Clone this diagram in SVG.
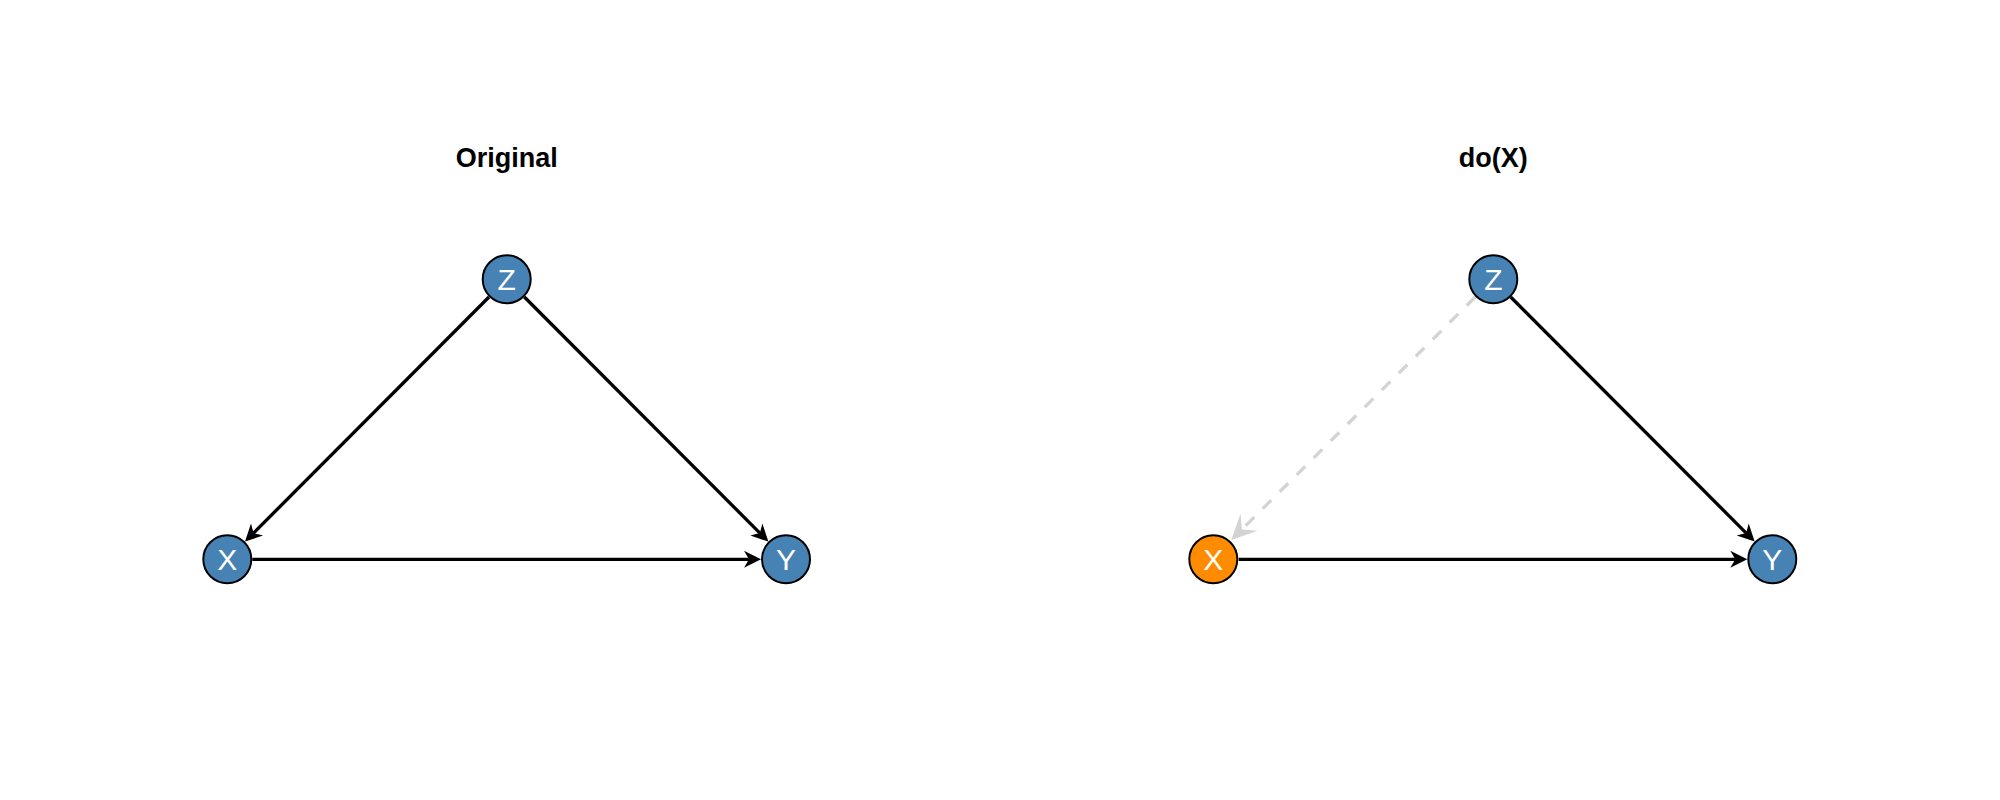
<svg xmlns="http://www.w3.org/2000/svg" width="2000" height="800" viewBox="0 0 2000 800">
  <style>
    .title { font-family: "Liberation Sans", Arial, sans-serif; font-size: 27px; font-weight: bold; fill: #000; text-anchor: middle; }
    .node circle { stroke: #000; stroke-width: 2; }
    .blue circle { fill: #4682b4; }
    .orange circle { fill: #ff8c00; }
    .node text { font-family: "Liberation Sans", Arial, sans-serif; font-size: 30px; fill: #fff; text-anchor: middle; }
    .edge { stroke: #000; stroke-width: 3.3; fill: none; marker-end: url(#arrow); }
    .removed { stroke: #d3d3d3; stroke-width: 3.3; fill: none; stroke-dasharray: 12 12; marker-end: url(#arrowGray); }
  </style>
  <defs>
    <marker id="arrow" viewBox="-8 -10 22 20" refX="0" refY="0" markerWidth="22" markerHeight="20" markerUnits="userSpaceOnUse" orient="auto">
      <path d="M12,0 L-5,-8.5 L0,0 L-5,8.5 Z" fill="#000"/>
    </marker>
    <marker id="arrowGray" viewBox="-15 -13 29 26" refX="0" refY="0" markerWidth="29" markerHeight="26" markerUnits="userSpaceOnUse" orient="auto">
      <path d="M12,0 L-13,-12 L-3,0 L-13,12 Z" fill="#d3d3d3"/>
    </marker>
  </defs>
  <rect width="2000" height="800" fill="#fff"/>

  <text class="title" x="506.7" y="167">Original</text>
  <text class="title" x="1493.3" y="167">do(X)</text>

  <g id="connectors">
    <line class="edge" x1="489" y1="297" x2="253.5" y2="533.1"/>
    <line class="edge" x1="524.35" y1="297" x2="759.9" y2="533.1"/>
    <line class="edge" x1="252.3" y1="559.3" x2="749" y2="559.3"/>
    <line class="removed" x1="1475.3" y1="297" x2="1239.8" y2="531.5"/>
    <line class="edge" x1="1510.65" y1="297" x2="1746.2" y2="533.1"/>
    <line class="edge" x1="1238.6" y1="559.3" x2="1735.3" y2="559.3"/>
  </g>

  <g id="node-Z-original" class="node blue">
    <circle cx="506.7" cy="279.3" r="24"/>
    <text x="506.7" y="290">Z</text>
  </g>
  <g id="node-X-original" class="node blue">
    <circle cx="227.3" cy="559.3" r="24"/>
    <text x="227.3" y="570">X</text>
  </g>
  <g id="node-Y-original" class="node blue">
    <circle cx="786" cy="559.3" r="24"/>
    <text x="786" y="570">Y</text>
  </g>

  <g id="node-Z-do" class="node blue">
    <circle cx="1493.3" cy="279.3" r="24"/>
    <text x="1493.3" y="290">Z</text>
  </g>
  <g id="node-X-do" class="node orange">
    <circle cx="1213.3" cy="559.3" r="24"/>
    <text x="1213.3" y="570">X</text>
  </g>
  <g id="node-Y-do" class="node blue">
    <circle cx="1772.3" cy="559.3" r="24"/>
    <text x="1772.3" y="570">Y</text>
  </g>
</svg>
